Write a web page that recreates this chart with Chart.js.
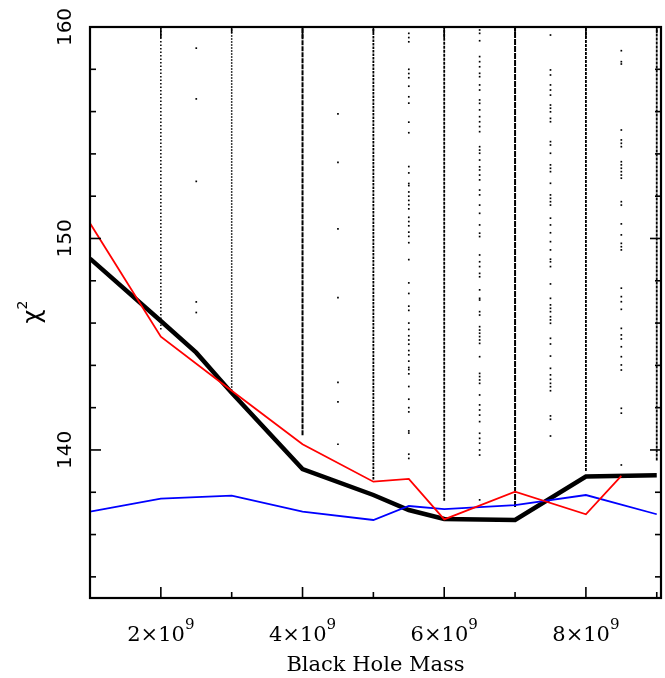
<!DOCTYPE html>
<html>
<head>
<meta charset="utf-8">
<script src="https://cdn.jsdelivr.net/npm/chart.js@4.4.1/dist/chart.umd.min.js"></script>
<style>
  html, body { margin: 0; padding: 0; background: #fff; }
  #wrap { width: 665px; height: 678px; }
</style>
</head>
<body>
<div id="wrap"><canvas id="chart"></canvas></div>
<script>
// best-fit curves
const massGrid = [1e9, 2e9, 2.5e9, 3e9, 4e9, 5e9, 5.5e9, 6e9, 7e9, 8e9, 8.5e9, 9e9];
const chi2Black = [149.05, 146.1, 144.6, 142.7, 139.1, 137.87, 137.16, 136.74, 136.69, 138.74, null, 138.8];
const chi2Red = [150.72, 145.36, null, 142.8, 140.27, 138.5, 138.63, 136.72, 138.03, 136.96, 138.77, null];
const chi2Blue = [137.08, 137.7, null, 137.84, 137.08, 136.69, 137.35, 137.2, 137.39, 137.87, null, 136.96];

// dense columns of trial fits (range covered)
const denseMass = [2e9, 3e9, 4e9, 5e9, 6e9, 7e9, 8e9, 9e9];
const denseLow = [145.7, 142.8, 140.7, 138.6, 137.6, 137.3, 139.0, 139.5];
const denseHigh = [160, 160, 160, 160, 160, 160, 160, 160];

// sparse columns, one value per trial fit
const sparseMass = [2.5e9, 4.5e9, 5.5e9, 6.5e9, 7.5e9, 8.5e9];
const sparse25 = [159.0, 156.6, 152.7, 147.0, 146.5];
const sparse45 = [155.89, 153.6, 150.45, 147.2, 143.2, 142.27, 140.27];
const sparse55 = [159.7, 159.5, 159.3, 158.0, 157.8, 157.6, 157.2, 156.7, 156.4, 155.5, 155.0, 153.4, 153.1,
  152.6, 152.5, 152.2, 152.0, 151.8, 151.6, 151.4, 151.0, 150.8, 150.6, 150.3, 150.1, 149.8, 149.0, 147.9,
  147.4, 146.8, 146.6, 146.0, 145.7, 145.4, 145.2, 145.0, 144.7, 144.5, 144.2, 143.9, 143.8, 143.6, 143.0,
  142.4, 142.0, 141.8, 140.9, 140.8, 139.8, 139.6];
const sparse65 = [159.86, 159.7, 159.35, 158.6, 158.36, 158.12, 157.81, 157.65, 157.26, 157.02, 156.55, 156.39,
  156.08, 155.76, 155.52, 155.29, 155.05, 154.34, 154.18, 154.03, 153.71, 153.39, 153.24, 153.0, 152.77, 152.29,
  152.06, 151.58, 151.19, 150.64, 150.25, 150.09, 149.22, 148.9, 148.67, 148.35, 148.19, 147.57, 147.17, 147.09,
  146.54, 146.38, 145.83, 145.67, 145.52, 145.36, 145.2, 145.04, 144.41, 143.62, 143.47, 143.31, 143.15, 142.6,
  142.13, 141.89, 141.65, 141.34, 140.79, 140.55, 140.32, 140.0, 139.76, 137.64];
const sparse75 = [159.62, 157.97, 157.73, 157.26, 157.02, 156.78, 156.31, 156.16, 155.99, 155.68, 155.52, 154.58,
  154.42, 154.03, 153.48, 153.32, 153.16, 152.61, 152.06, 151.9, 151.74, 151.58, 150.96, 150.64, 150.27, 149.85,
  149.46, 149.02, 148.9, 148.67, 147.85, 147.17, 146.86, 146.7, 146.54, 146.3, 146.15, 145.99, 145.28, 145.01,
  144.44, 143.86, 143.55, 143.34, 143.15, 142.99, 142.8, 141.61, 141.45, 140.66];
const sparse85 = [158.88, 158.36, 158.25, 155.13, 154.66, 154.5, 154.34, 153.63, 153.48, 153.32, 153.16, 153.0,
  152.85, 151.74, 151.58, 150.69, 150.17, 149.77, 149.61, 149.46, 147.65, 147.25, 147.01, 146.65, 145.75, 145.44,
  145.25, 144.88, 144.41, 144.02, 143.78, 141.97, 141.74, 139.29];
const sparseValues = [sparse25, sparse45, sparse55, sparse65, sparse75, sparse85];

// axis ticks
const xMajorTicks = [2e9, 4e9, 6e9, 8e9];
const xMinorTicks = [3e9, 5e9, 7e9, 9e9];
const xTickLabels = [['2×10', '9'], ['4×10', '9'], ['6×10', '9'], ['8×10', '9']];
const yMajorTicks = [140, 150, 160];
const yMinorTicks = [134, 136, 138, 142, 144, 146, 148, 152, 154, 156, 158];
const yTickLabels = ['140', '150', '160'];

const curve = (values, color, width) => ({
  data: massGrid.map((m, i) => ({ x: m, y: values[i] })),
  showLine: true,
  spanGaps: true,
  borderColor: color,
  borderWidth: width,
  pointRadius: 0,
  tension: 0,
  borderJoinStyle: 'miter',
});

// dash look of each dense column (style only)
const denseDash = [[1.5, 2], [1.5, 1.5], [5, 1], [2.5, 1], [3, 1], [6, 1], [3, 1], [3, 1]];
const denseWidth = [1.5, 1.5, 2, 1.8, 1.8, 2, 1.8, 1.8];
const denseSets = denseMass.map((m, i) => ({
  data: [{ x: m, y: denseLow[i] }, { x: m, y: denseHigh[i] }],
  showLine: true,
  borderColor: '#000',
  borderWidth: denseWidth[i],
  borderDash: denseDash[i],
  pointRadius: 0,
}));

const sparseSets = sparseMass.map((m, i) => ({
  data: sparseValues[i].map((v) => ({ x: m, y: v })),
  showLine: false,
  pointStyle: 'rect',
  pointRadius: 1.2,
  pointBorderWidth: 0,
  backgroundColor: '#000',
  borderColor: '#000',
}));

const axesPlugin = {
  id: 'axes',
  afterDraw(chart) {
    const { ctx, chartArea: a, scales: { x, y } } = chart;
    ctx.save();
    ctx.strokeStyle = '#000';
    ctx.lineWidth = 1.6;
    const tick = (x1, y1, x2, y2) => {
      ctx.beginPath(); ctx.moveTo(x1, y1); ctx.lineTo(x2, y2); ctx.stroke();
    };
    xMajorTicks.forEach((v) => {
      const px = x.getPixelForValue(v);
      tick(px, a.bottom, px, a.bottom - 11);
      tick(px, a.top, px, a.top + 11);
    });
    xMinorTicks.forEach((v) => {
      const px = x.getPixelForValue(v);
      tick(px, a.bottom, px, a.bottom - 6);
      tick(px, a.top, px, a.top + 6);
    });
    yMajorTicks.forEach((v) => {
      const py = y.getPixelForValue(v);
      tick(a.left, py, a.left + 11, py);
      tick(a.right, py, a.right - 11, py);
    });
    yMinorTicks.forEach((v) => {
      const py = y.getPixelForValue(v);
      tick(a.left, py, a.left + 6, py);
      tick(a.right, py, a.right - 6, py);
    });
    ctx.lineWidth = 2.2;
    ctx.strokeRect(a.left, a.top, a.right - a.left, a.bottom - a.top);

    ctx.fillStyle = '#000';
    // x tick labels with superscript exponent
    xMajorTicks.forEach((v, i) => {
      const px = x.getPixelForValue(v);
      const [base, exp] = xTickLabels[i];
      ctx.font = '21px "DejaVu Serif"';
      const w1 = ctx.measureText(base).width;
      ctx.font = '15px "DejaVu Serif"';
      const w2 = ctx.measureText(exp).width;
      const x0 = px - (w1 + w2) / 2;
      ctx.textAlign = 'left';
      ctx.textBaseline = 'alphabetic';
      ctx.font = '21px "DejaVu Serif"';
      ctx.fillText(base, x0, a.bottom + 43);
      ctx.font = '15px "DejaVu Serif"';
      ctx.fillText(exp, x0 + w1, a.bottom + 31);
    });
    // y tick labels, rotated
    yMajorTicks.forEach((v, i) => {
      const py = y.getPixelForValue(v);
      ctx.save();
      ctx.translate(a.left - 24, py);
      ctx.rotate(-Math.PI / 2);
      ctx.textAlign = 'center';
      ctx.textBaseline = 'middle';
      ctx.font = '20px "DejaVu Sans"';
      ctx.fillText(yTickLabels[i], 0, 0);
      ctx.restore();
    });
    // axis titles
    ctx.textAlign = 'center';
    ctx.textBaseline = 'alphabetic';
    ctx.font = '21px "DejaVu Serif"';
    ctx.fillText('Black Hole Mass', (a.left + a.right) / 2, a.bottom + 73);

    ctx.save();
    ctx.translate(a.left - 58, (a.top + a.bottom) / 2);
    ctx.rotate(-Math.PI / 2);
    ctx.font = '24px "DejaVu Sans"';
    const wc = ctx.measureText('χ').width;
    ctx.textAlign = 'left';
    ctx.fillText('χ', -wc / 2 - 4, 8);
    ctx.font = '14px "DejaVu Sans"';
    ctx.fillText('2', wc / 2 - 4, -5);
    ctx.restore();
    ctx.restore();
  },
};

new Chart(document.getElementById('chart').getContext('2d'), {
  type: 'scatter',
  data: {
    datasets: [
      curve(chi2Red, '#ff0000', 1.8),
      curve(chi2Blue, '#0000ff', 1.8),
      curve(chi2Black, '#000000', 4.5),
      ...sparseSets,
      ...denseSets,
    ],
  },
  options: {
    responsive: true,
    maintainAspectRatio: false,
    animation: false,
    layout: { padding: { left: 90, top: 27, right: 4, bottom: 80 } },
    plugins: { legend: { display: false }, tooltip: { enabled: false } },
    scales: {
      x: { type: 'linear', min: 1e9, max: 9.06e9, display: false },
      y: { type: 'linear', min: 133, max: 160, display: false },
    },
  },
  plugins: [axesPlugin],
});
</script>
</body>
</html>
